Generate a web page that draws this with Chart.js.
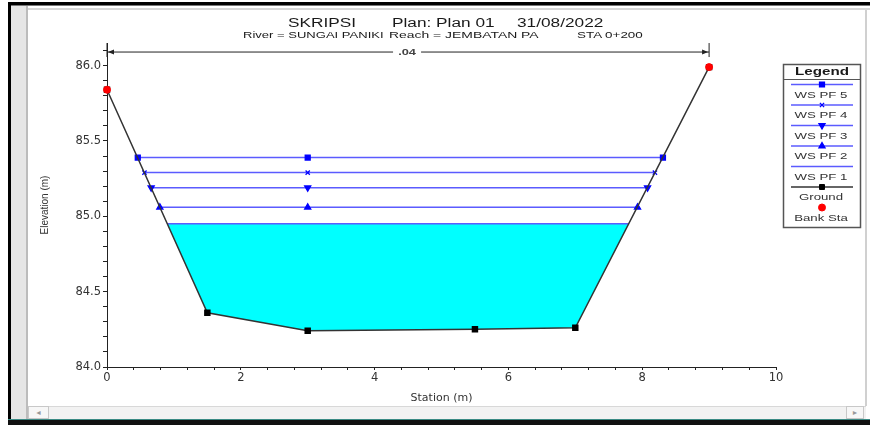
<!DOCTYPE html>
<html>
<head>
<meta charset="utf-8">
<script src="https://cdn.jsdelivr.net/npm/chart.js@4.4.0/dist/chart.umd.min.js"></script>
<style>
body{margin:0;width:870px;height:425px;position:relative;overflow:hidden;background:#fff;font-family:"Liberation Sans",Arial,sans-serif}
.fr{position:absolute}
.t{position:absolute;white-space:pre;transform-origin:0 50%;color:#1a1a1a;line-height:14px}
.t1{font-size:12.5px}
.t2{font-size:9.8px}
canvas{position:absolute;left:0;top:0}
</style>
</head>
<body>
<!-- window frame -->
<div class="fr" style="left:8px;top:2px;width:862px;height:3px;background:#000"></div>
<div class="fr" style="left:11px;top:5px;width:859px;height:1px;background:#777"></div>
<div class="fr" style="left:28px;top:8px;width:842px;height:2px;background:#d6d6d6"></div>
<div class="fr" style="left:8px;top:2px;width:3px;height:423px;background:#000"></div>
<div class="fr" style="left:11px;top:6px;width:15px;height:414px;background:#e6e6e6;border-right:2px solid #bcbcbc"></div>
<div class="fr" style="left:865px;top:10px;width:2px;height:396px;background:#d0d0d0"></div>
<div class="fr" style="left:28px;top:406px;width:838px;height:12px;background:#f2f2f2;border-top:1px solid #d8d8d8"></div>
<div class="fr" style="left:28px;top:406px;width:19px;height:11px;border:1px solid #c8c8c8;background:#f7f7f7;font-size:7px;color:#999;text-align:center;line-height:11px">&#9668;</div>
<div class="fr" style="left:846px;top:406px;width:16px;height:11px;border:1px solid #c8c8c8;background:#f7f7f7;font-size:7px;color:#999;text-align:center;line-height:11px">&#9658;</div>
<div class="fr" style="left:8px;top:419px;width:862px;height:1px;background:#3a8a84"></div>
<div class="fr" style="left:8px;top:420px;width:862px;height:5px;background:#111"></div>

<canvas id="xsec" width="870" height="425"></canvas>

<div class="t t1" style="left:288px;top:15.5px;transform:scaleX(1.38)">SKRIPSI</div>
<div class="t t1" style="left:392px;top:15.5px;transform:scaleX(1.38)">Plan: Plan 01</div>
<div class="t t1" style="left:517px;top:15.5px;transform:scaleX(1.38)">31/08/2022</div>
<div class="t t2" style="left:243px;top:28px;transform:scaleX(1.33)">River = SUNGAI PANIKI</div>
<div class="t t2" style="left:389px;top:28px;transform:scaleX(1.42)">Reach = JEMBATAN PA</div>
<div class="t t2" style="left:577px;top:28px;transform:scaleX(1.37)">STA 0+200</div>

<script>
// ground profile (station m, elevation m)
const groundStation = [0, 1.5, 3, 5.5, 7, 9];
const groundElev = [85.84, 84.36, 84.24, 84.25, 84.26, 85.99];

// bank stations
const bankStation = [0, 9];
const bankElev = [85.84, 85.99];

// water surfaces, PF 5 .. PF 1
const wsLabels = ['WS PF 5', 'WS PF 4', 'WS PF 3', 'WS PF 2', 'WS PF 1'];
const wsElev = [85.39, 85.29, 85.19, 85.06, 84.95];
const wsLeft = [0.46, 0.56, 0.66, 0.79, 0.90];
const wsRight = [8.31, 8.19, 8.08, 7.93, 7.80];
const wsMid = 3;

// manning n band across the section
const manningN = '.04';
const manningStation = [0, 9];
const manningElev = 86.09;

const legendOrder = ['WS PF 5', 'WS PF 4', 'WS PF 3', 'WS PF 2', 'WS PF 1', 'Ground', 'Bank Sta'];

const wsBlue = '#5b5bff';
const markBlue = '#0000ff';
const wsStyles = [
    { pointStyle: 'rect', rotation: 0, radius: 3.5 },
    { pointStyle: 'crossRot', rotation: 0, radius: 3 },
    { pointStyle: 'triangle', rotation: 180, radius: 3.5 },
    { pointStyle: 'triangle', rotation: 0, radius: 3.5 },
    { pointStyle: 'circle', rotation: 0, radius: 0 }
];

const datasets = [];

datasets.push({
    label: 'Bank Sta',
    data: bankStation.map((s, i) => ({ x: s, y: bankElev[i] })),
    showLine: false,
    pointStyle: 'circle',
    pointRadius: 3.5,
    pointBackgroundColor: '#ff0000',
    pointBorderColor: '#ff0000',
    clip: false
});

datasets.push({
    label: 'Ground',
    data: groundStation.map((s, i) => ({ x: s, y: groundElev[i] })),
    showLine: true,
    borderColor: '#333',
    borderWidth: 1.5,
    pointStyle: 'rect',
    pointRadius: 3.5,
    pointBackgroundColor: '#000',
    pointBorderColor: '#000',
    clip: false
});

wsLabels.forEach((lab, i) => {
    const st = wsStyles[i];
    datasets.push({
        label: lab,
        data: [
            { x: wsLeft[i], y: wsElev[i] },
            { x: wsMid, y: wsElev[i] },
            { x: wsRight[i], y: wsElev[i] }
        ],
        showLine: true,
        borderColor: wsBlue,
        borderWidth: 1.5,
        pointStyle: st.pointStyle,
        pointRotation: st.rotation,
        pointRadius: st.radius,
        pointBorderWidth: 1.3,
        pointBackgroundColor: markBlue,
        pointBorderColor: markBlue,
        clip: false
    });
});

// cyan water body under the lowest surface
const water = [{ x: wsLeft[4], y: wsElev[4] }];
groundStation.forEach((s, i) => {
    if (s > wsLeft[4] && s < wsRight[4]) water.push({ x: s, y: groundElev[i] });
});
water.push({ x: wsRight[4], y: wsElev[4] });
datasets.push({
    label: 'water',
    data: water,
    showLine: true,
    borderColor: 'rgba(0,0,0,0)',
    borderWidth: 0,
    pointRadius: 0,
    backgroundColor: '#00ffff',
    fill: { value: wsElev[4] }
});

function wideText(ctx, txt, x, y, sx) {
    ctx.save();
    ctx.translate(x, y);
    ctx.scale(sx, 1);
    ctx.fillText(txt, 0, 0);
    ctx.restore();
}

function drawMark(ctx, ds, x, y) {
    const r = ds.pointRadius;
    if (!r) return;
    ctx.fillStyle = ds.pointBackgroundColor;
    ctx.strokeStyle = ds.pointBorderColor;
    ctx.lineWidth = ds.pointBorderWidth || 1;
    Chart.helpers.drawPoint(ctx, {
        pointStyle: ds.pointStyle,
        rotation: ds.pointRotation || 0,
        radius: r,
        borderWidth: ds.pointBorderWidth || 1
    }, x, y);
}

const manningPlugin = {
    id: 'manning',
    afterDatasetsDraw(chart) {
        const { ctx, scales: { x, y } } = chart;
        const x0 = x.getPixelForValue(manningStation[0]);
        const x1 = x.getPixelForValue(manningStation[1]);
        const yy = y.getPixelForValue(manningElev);
        const mid = (x0 + x1) / 2;
        ctx.save();
        ctx.strokeStyle = '#222';
        ctx.fillStyle = '#222';
        ctx.lineWidth = 1;
        ctx.beginPath();
        ctx.moveTo(x0, yy - 9); ctx.lineTo(x0, yy + 5);
        ctx.moveTo(x1, yy - 9); ctx.lineTo(x1, yy + 5);
        ctx.moveTo(x0, yy); ctx.lineTo(mid - 15, yy);
        ctx.moveTo(mid + 13, yy); ctx.lineTo(x1, yy);
        ctx.stroke();
        ctx.beginPath();
        ctx.moveTo(x0 + 1, yy); ctx.lineTo(x0 + 7, yy - 2.5); ctx.lineTo(x0 + 7, yy + 2.5); ctx.closePath();
        ctx.moveTo(x1 - 1, yy); ctx.lineTo(x1 - 7, yy - 2.5); ctx.lineTo(x1 - 7, yy + 2.5); ctx.closePath();
        ctx.fill();
        ctx.fillStyle = '#444';
        ctx.font = 'bold 9.5px "Liberation Sans", Arial';
        ctx.textAlign = 'center';
        ctx.textBaseline = 'middle';
        wideText(ctx, manningN, mid - 1, yy + 0.5, 1.35);
        ctx.restore();
    }
};

const boxLegend = {
    id: 'boxLegend',
    afterDraw(chart) {
        const ctx = chart.ctx;
        const L = 783.5, T = 64.5, W = 77, H = 163;
        ctx.save();
        ctx.strokeStyle = '#555';
        ctx.lineWidth = 1.5;
        ctx.strokeRect(L, T, W, H);
        ctx.lineWidth = 1;
        ctx.beginPath();
        ctx.moveTo(L, 79.5); ctx.lineTo(L + W, 79.5);
        ctx.stroke();
        ctx.textAlign = 'center';
        ctx.textBaseline = 'middle';
        ctx.fillStyle = '#1a1a1a';
        ctx.font = 'bold 11px "Liberation Sans", Arial';
        wideText(ctx, 'Legend', 822, 72, 1.38);
        legendOrder.forEach((lab, i) => {
            const ds = chart.data.datasets.find(d => d.label === lab);
            const ly = 84.5 + 20.5 * i;
            if (ds.showLine) {
                ctx.strokeStyle = ds.borderColor;
                ctx.lineWidth = 1.5;
                ctx.beginPath();
                ctx.moveTo(791, ly); ctx.lineTo(853, ly);
                ctx.stroke();
            }
            const r = ds.pointRadius;
            drawMark(ctx, Object.assign({}, ds, { pointRadius: r ? Math.min(r, 3.5) : 0 }), 822, ly);
            ctx.fillStyle = '#333';
            ctx.font = '9.6px "Liberation Sans", Arial';
            wideText(ctx, lab, 821, ly + 10.5, 1.38);
        });
        ctx.restore();
    }
};

new Chart(document.getElementById('xsec'), {
    type: 'scatter',
    data: { datasets: datasets },
    options: {
        responsive: false,
        animation: false,
        layout: { padding: { left: 39, right: 94, top: 43, bottom: 20 } },
        plugins: {
            legend: { display: false },
            tooltip: { enabled: false }
        },
        scales: {
            x: {
                type: 'linear',
                min: 0,
                max: 10,
                afterFit: s => { s.height = 38; },
                ticks: {
                    stepSize: 0.4,
                    autoSkip: false,
                    maxRotation: 0,
                    padding: 1,
                    color: '#333',
                    font: { family: 'DejaVu Sans', size: 11.5 },
                    callback: v => (Math.abs(v / 2 - Math.round(v / 2)) < 1e-6 ? String(Math.round(v)) : '')
                },
                grid: { drawOnChartArea: false, drawTicks: true, tickLength: 3, color: '#222' },
                border: { display: true, color: '#222', width: 1 },
                title: {
                    display: true,
                    text: 'Station (m)',
                    color: '#333',
                    font: { family: 'DejaVu Sans', size: 11 },
                    padding: 0
                }
            },
            y: {
                type: 'linear',
                min: 84,
                max: 86.15,
                afterFit: s => { s.width = 68; },
                ticks: {
                    stepSize: 0.1,
                    autoSkip: false,
                    includeBounds: false,
                    padding: 2,
                    color: '#333',
                    font: { family: 'DejaVu Sans', size: 11.5 },
                    callback: v => (Math.abs(v * 2 - Math.round(v * 2)) < 1e-6 ? v.toFixed(1) : '')
                },
                grid: { drawOnChartArea: false, drawTicks: true, tickLength: 4, color: '#222' },
                border: { display: true, color: '#222', width: 1 },
                title: {
                    display: true,
                    text: 'Elevation (m)',
                    color: '#333',
                    font: { family: 'Liberation Sans', size: 10 },
                    padding: 0
                }
            }
        }
    },
    plugins: [manningPlugin, boxLegend]
});
</script>
</body>
</html>
